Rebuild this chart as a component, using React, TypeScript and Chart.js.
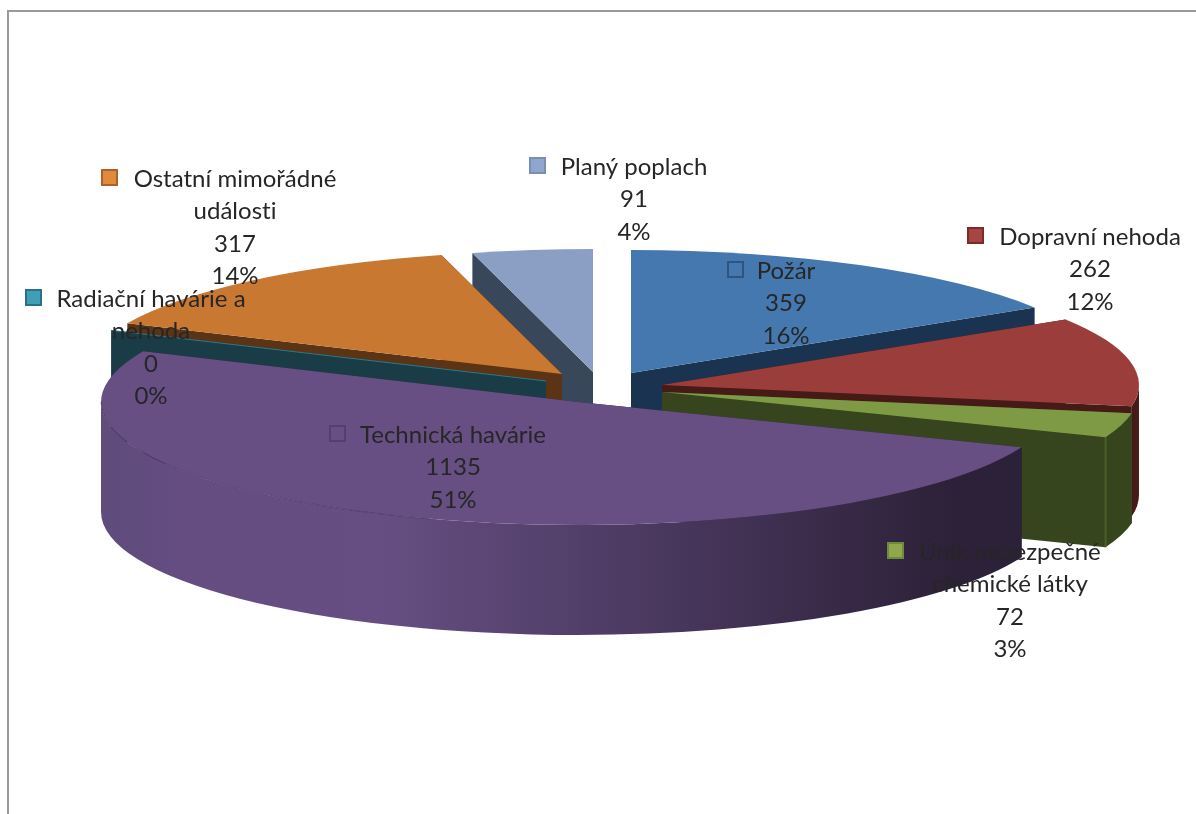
import React, { useEffect, useRef } from "react";
import { Chart, PieController, ArcElement } from "chart.js";

const categories = [
  "Požár",
  "Dopravní nehoda",
  "Únik nebezpečné chemické látky",
  "Technická havárie",
  "Radiační havárie a nehoda",
  "Ostatní mimořádné události",
  "Planý poplach",
];
const values = [359, 262, 72, 1135, 0, 317, 91];
const percents = ["16%", "12%", "3%", "51%", "0%", "14%", "4%"];

// label line wrapping
const labelLines = [
  ["Požár"],
  ["Dopravní nehoda"],
  ["Únik nebezpečné", "chemické látky"],
  ["Technická havárie"],
  ["Radiační havárie a", "nehoda"],
  ["Ostatní mimořádné", "události"],
  ["Planý poplach"],
];

// styling
const topColors = ["#4678b0", "#9a3d3b", "#7f9a44", "#674e83", "#2a7a8c", "#c97832", "#8a9fc3"];
const wallColors = ["#1a3350", "#451a17", "#37451f", "#2c2138", "#1a3c46", "#5a3414", "#39475b"];
const keyFill = ["#4678b0", "#a84442", "#8ea94a", "#674e83", "#3f9fb8", "#df8a3d", "#8fa7cf"];
const keyEdge = ["#2f547f", "#7a2c2a", "#6f8a3a", "#54406c", "#2a7088", "#a8622a", "#7a8fb0"];

// layout (exploded-pie look)
const explodeX = [19, 50, 50, -34, -66, -50, -19];
const explodeY = [-10, 2, 9, 19, -2, -9, -11];
const paintOrder = [6, 0, 5, 4, 1, 2, 3];
const labelCenterX = [786, 1090, 1010, 453, 151, 235, 634];
const labelTopBaseline = [279, 245, 560, 443, 307, 187, 175];
const keyX = [728, 968, 888, 330, 26, 102, 530];
const SQUASH_X = 1.2454;
const SQUASH_Y = 0.3211;
const DEPTH = 110;
const LINE_H = 32.4;
const FONT = '24px Lato, "Open Sans", sans-serif';

class Pie3DController extends PieController {
  draw() {
    const ctx = this.chart.ctx;
    const arcs = this.getMeta().data as any[];
    const grad = ctx.createLinearGradient(101, 0, 1030, 0);
    grad.addColorStop(0, "#5f4b7c");
    grad.addColorStop(0.1, "#654d81");
    grad.addColorStop(0.3, "#664e82");
    grad.addColorStop(0.5, "#53406b");
    grad.addColorStop(0.72, "#3f2f50");
    grad.addColorStop(0.92, "#2c2138");
    grad.addColorStop(1, "#2b2138");

    for (const i of paintOrder) {
      const el = arcs[i];
      const { x, y, outerRadius, startAngle, endAngle } = el.getProps(["x", "y", "outerRadius", "startAngle", "endAngle"], true);
      const a = outerRadius * SQUASH_X;
      const b = outerRadius * SQUASH_Y;
      const tx = x + explodeX[i];
      const ty = y + explodeY[i];
      const rim = (t: number) => [tx + a * Math.cos(t), ty + b * Math.sin(t)];

      // radial cut faces
      ctx.fillStyle = wallColors[i];
      for (const t of [startAngle, endAngle]) {
        const [rx, ry] = rim(t);
        ctx.beginPath();
        ctx.moveTo(tx, ty);
        ctx.lineTo(rx, ry);
        ctx.lineTo(rx, ry + DEPTH);
        ctx.lineTo(tx, ty + DEPTH);
        ctx.closePath();
        ctx.fill();
      }

      // front outer wall
      const from = Math.max(startAngle, 0);
      const to = Math.min(endAngle, Math.PI);
      if (to > from) {
        ctx.beginPath();
        ctx.ellipse(tx, ty, a, b, 0, from, to);
        ctx.ellipse(tx, ty + DEPTH, a, b, 0, to, from, true);
        ctx.closePath();
        ctx.fillStyle = i === 3 ? grad : wallColors[i];
        ctx.fill();
      }
      if (i === 2) {
        const [ex, ey] = rim(endAngle);
        ctx.strokeStyle = "#4a5f26";
        ctx.lineWidth = 2;
        ctx.beginPath();
        ctx.moveTo(ex, ey);
        ctx.lineTo(ex, ey + DEPTH);
        ctx.stroke();
      }

      // top face
      if (endAngle > startAngle) {
        ctx.beginPath();
        ctx.moveTo(tx, ty);
        ctx.ellipse(tx, ty, a, b, 0, startAngle, endAngle);
        ctx.closePath();
        ctx.fillStyle = topColors[i];
        ctx.fill();
        if (i === 3) {
          ctx.beginPath();
          ctx.ellipse(tx, ty, a, b, 0, Math.PI * 0.6, Math.PI);
          ctx.strokeStyle = "rgba(60,44,84,0.55)";
          ctx.lineWidth = 1;
          ctx.stroke();
        }
      } else {
        const [rx, ry] = rim(startAngle);
        ctx.beginPath();
        ctx.moveTo(tx, ty);
        ctx.lineTo(rx, ry);
        ctx.strokeStyle = topColors[i];
        ctx.lineWidth = 1;
        ctx.stroke();
      }
    }
  }
}
(Pie3DController as any).id = "pie3d";
(Pie3DController as any).defaults = { ...PieController.defaults };
(Pie3DController as any).overrides = PieController.overrides;

Chart.register(Pie3DController as any, ArcElement);

const frameAndLabels = {
  id: "frameAndLabels",
  afterDraw(chart: any) {
    const ctx = chart.ctx as CanvasRenderingContext2D;
    ctx.save();
    ctx.strokeStyle = "#9a9a9a";
    ctx.lineWidth = 2;
    ctx.beginPath();
    ctx.moveTo(8, 814);
    ctx.lineTo(8, 11);
    ctx.lineTo(1196, 11);
    ctx.stroke();

    ctx.font = FONT;
    (ctx as any).letterSpacing = "0.01px";
    ctx.textBaseline = "alphabetic";
    ctx.textAlign = "center";
    categories.forEach((_, i) => {
      const lines = [...labelLines[i], String(values[i]), percents[i]];
      const base = labelTopBaseline[i];
      ctx.fillStyle = "#262626";
      lines.forEach((line, j) => {
        ctx.fillText(line, labelCenterX[i], base + j * LINE_H);
      });
      ctx.fillStyle = keyFill[i];
      ctx.strokeStyle = keyEdge[i];
      ctx.lineWidth = 2;
      ctx.beginPath();
      ctx.rect(keyX[i], base - 17, 15, 15);
      ctx.fill();
      ctx.stroke();
    });
    ctx.restore();
  },
};

export default function App() {
  const ref = useRef<HTMLCanvasElement>(null);
  useEffect(() => {
    document.body.style.margin = "0";
    const chart = new Chart(ref.current!, {
      type: "pie3d" as any,
      data: {
        labels: categories,
        datasets: [{ data: values, backgroundColor: topColors, borderWidth: 0 }],
      },
      options: {
        responsive: false,
        animation: false,
        layout: { padding: { left: 28, bottom: 48 } },
        plugins: { legend: { display: false }, tooltip: { enabled: false } },
      } as any,
      plugins: [frameAndLabels],
    });
    return () => chart.destroy();
  }, []);
  return <canvas ref={ref} width={1196} height={814} style={{ display: "block" }} />;
}
